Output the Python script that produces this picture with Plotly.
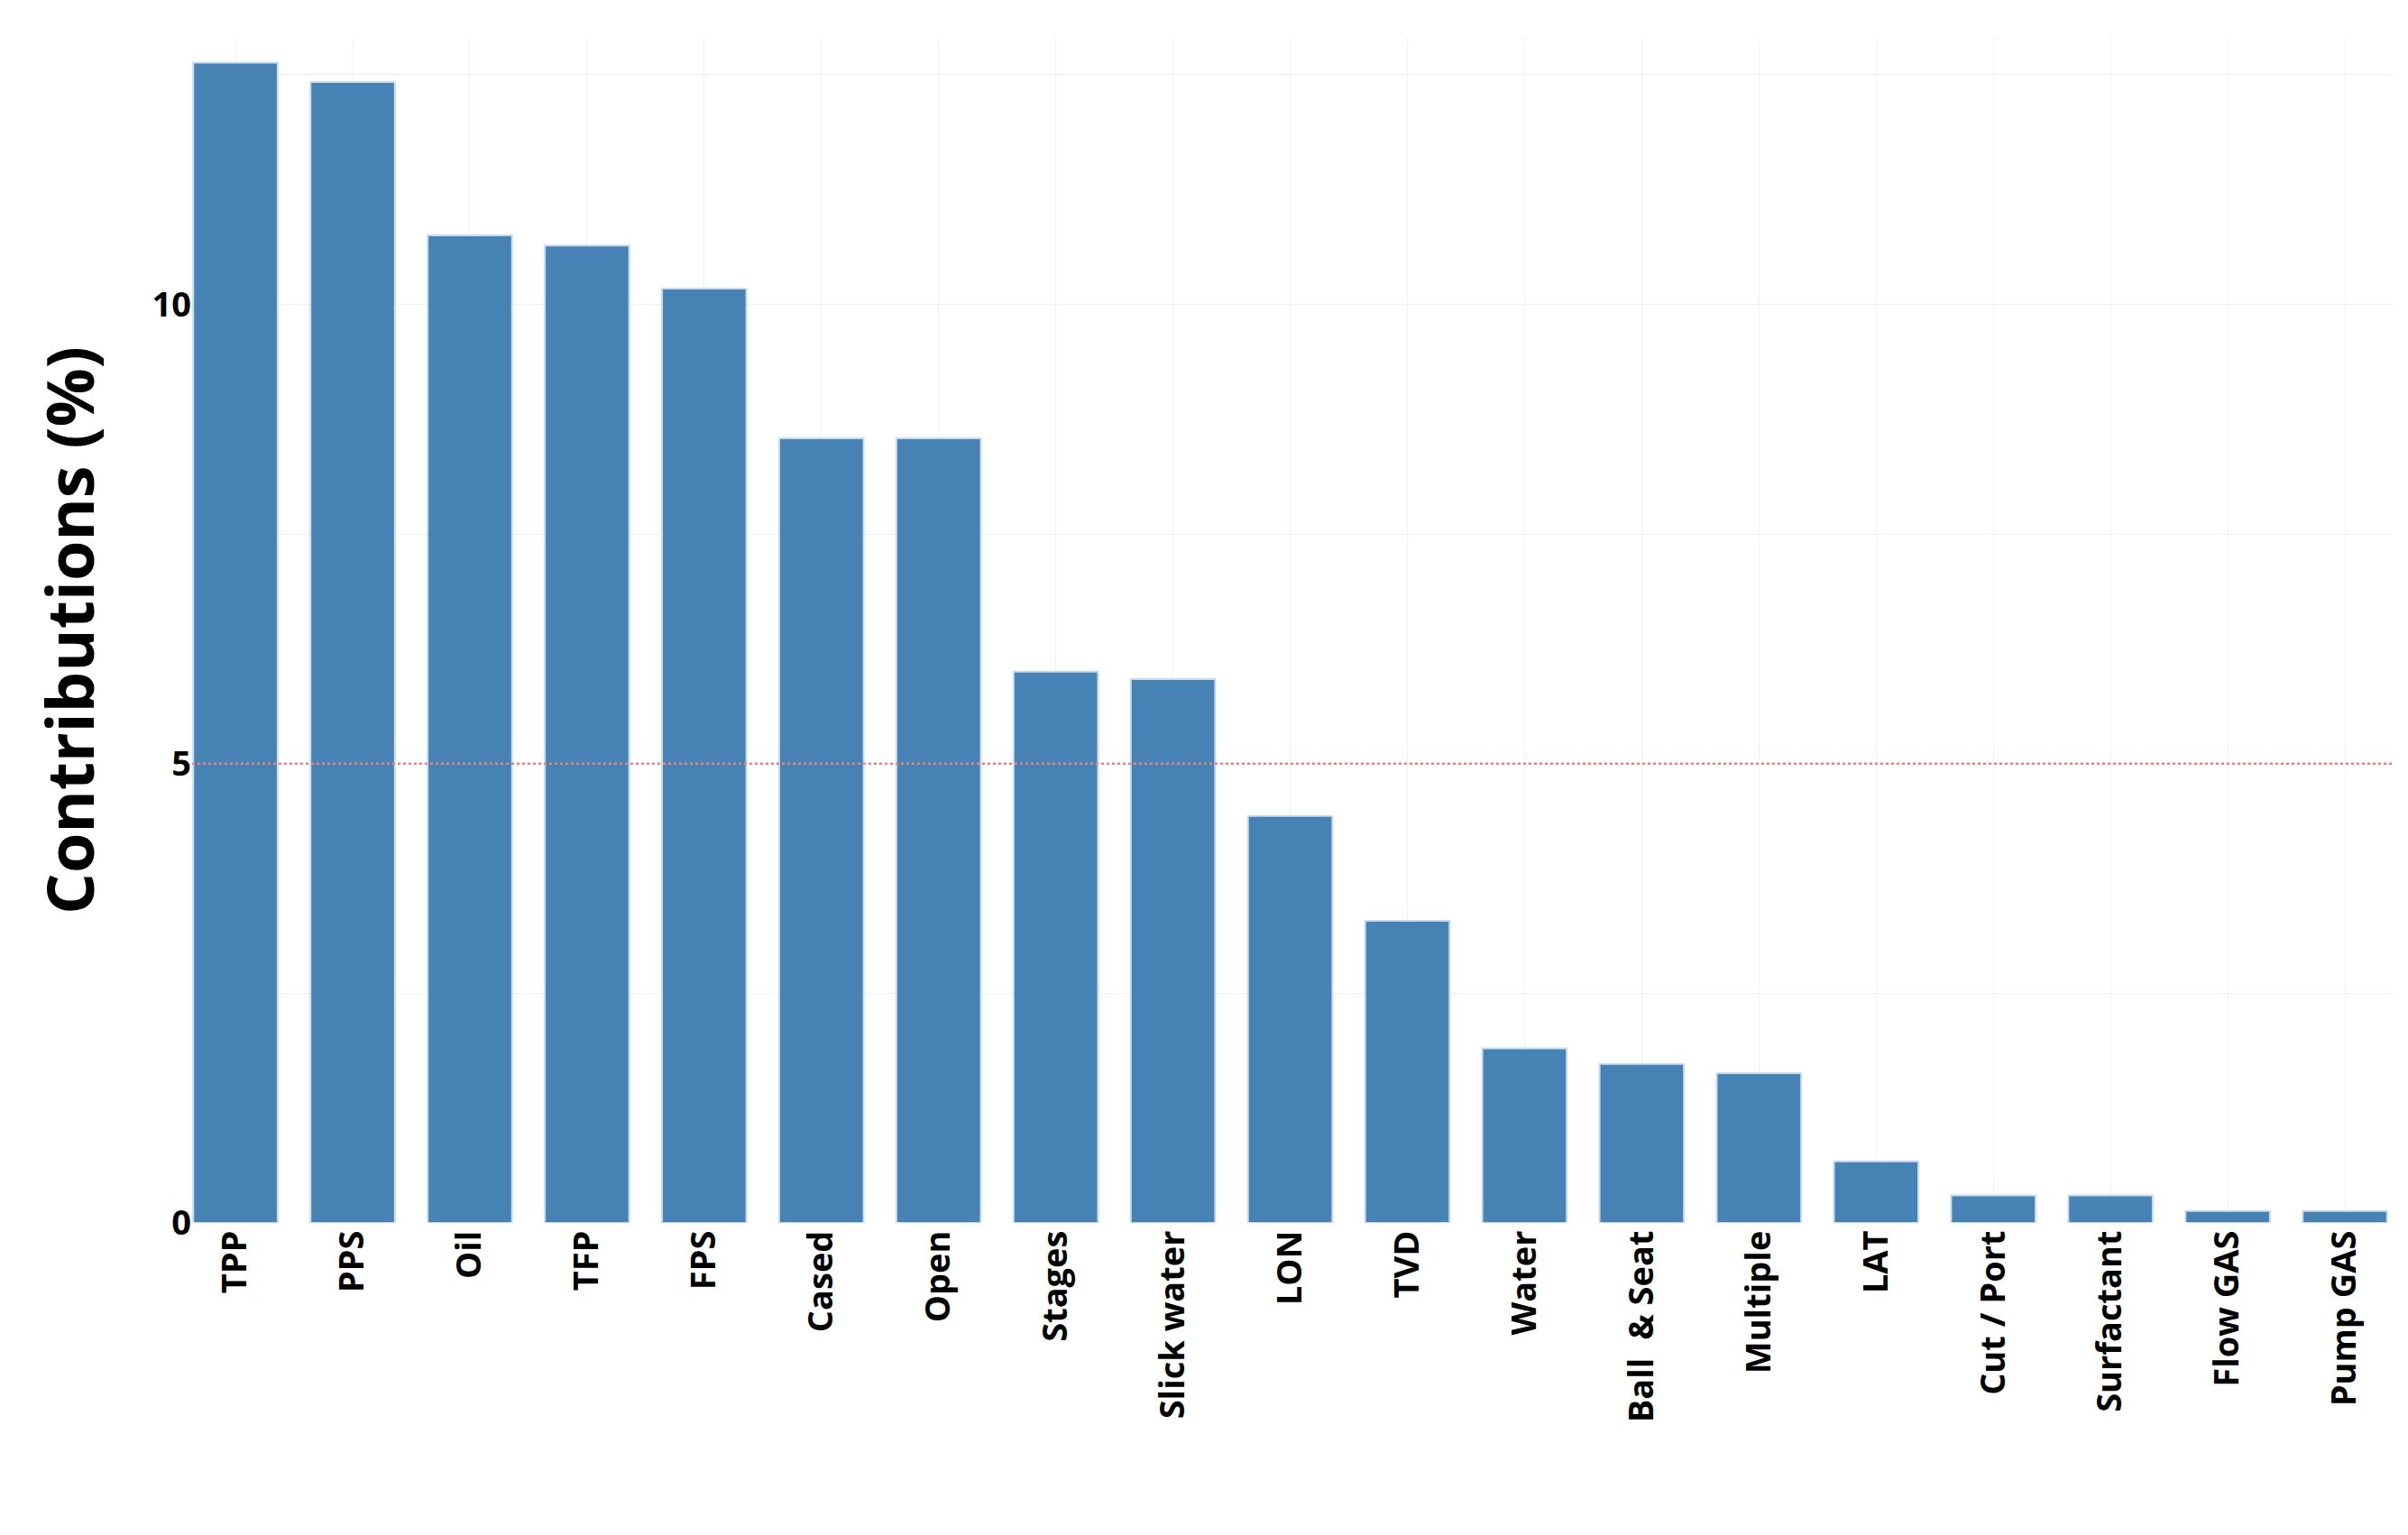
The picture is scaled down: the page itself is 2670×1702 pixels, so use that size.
import plotly.graph_objects as go

categories = ["TPP","PPS","Oil","TFP","FPS","Cased","Open","Stages","Slick water","LON","TVD","Water","Ball  & Seat","Multiple","LAT","Cut / Port","Surfactant","Flow GAS","Pump GAS"]
values = [12.63,12.42,10.75,10.64,10.17,8.54,8.54,6.0,5.92,4.43,3.29,1.90,1.73,1.63,0.67,0.30,0.30,0.13,0.13]
threshold = 5

fig = go.Figure(go.Bar(x=list(range(len(categories))), y=values, width=0.72,
    marker=dict(color="#4682B4", line=dict(color="#c6dbef", width=2))))
fig.add_shape(type="line", xref="paper", x0=0, x1=1, y0=threshold, y1=threshold,
    line=dict(color="#f08080", width=2.5, dash="dot"))
fig.update_layout(
    width=2670, height=1702, plot_bgcolor="white", paper_bgcolor="white",
    margin=dict(l=205, r=26, t=34, b=354), showlegend=False, bargap=0.28,
    font=dict(family="Open Sans", color="black"),
    xaxis=dict(tickmode="array", tickvals=list(range(len(categories))), ticktext=categories,
        tickangle=-90, range=[-0.37, 18.4], showgrid=True, gridcolor="#f0f0f0",
        tickfont=dict(size=38, family="Open Sans", weight="bold"), zeroline=False),
    yaxis=dict(range=[0, 12.9], tickvals=[0,5,10], showgrid=True, gridcolor="#f0f0f0",
        minor=dict(dtick=2.5, showgrid=True, gridcolor="#f0f0f0"),
        tickfont=dict(size=38, family="Open Sans", weight="bold"), zeroline=False,
        title=dict(text="Contributions (%)", font=dict(size=72, family="Open Sans", weight="bold"), standoff=40)),
)
fig.write_html("out.html")
